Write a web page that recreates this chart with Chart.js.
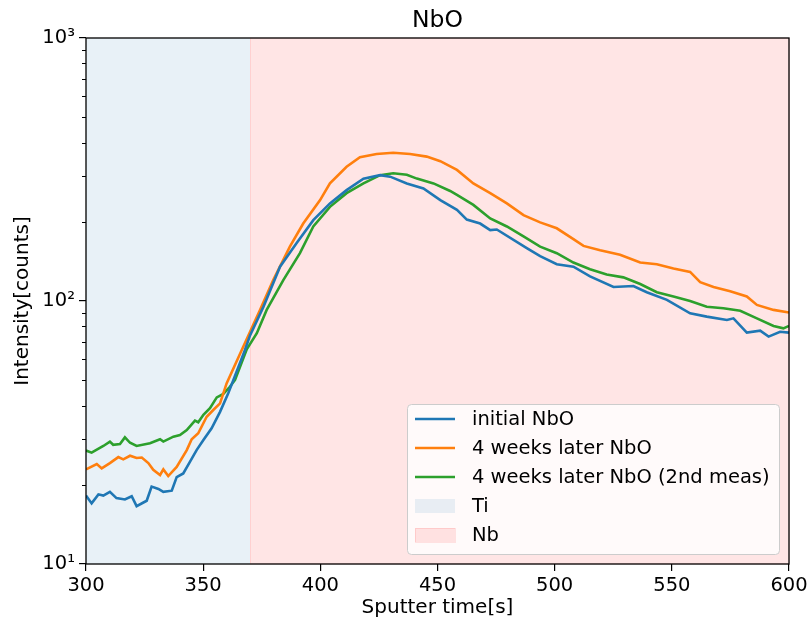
<!DOCTYPE html>
<html>
<head>
<meta charset="utf-8">
<title>NbO</title>
<script src="https://cdn.jsdelivr.net/npm/chart.js@4"></script>
<style>
  body { margin: 0; background: #fff; }
</style>
</head>
<body>
<canvas id="myChart" width="811" height="630"></canvas>
<script>
const ctx = document.getElementById('myChart');

// series: sputter time [s] and intensity [counts]
const chartTitle = 'NbO';
const seriesNames = ['initial NbO', '4 weeks later NbO', '4 weeks later NbO (2nd meas)'];
const seriesColors = ['#1f77b4', '#ff7f0e', '#2ca02c'];

const initialTime = [300, 302.4, 305.3, 307.4, 310.2, 313, 316.6, 319.5, 321.6, 325.9, 328, 330.9, 333, 336.6, 338.7, 341.5, 344.4, 347.2, 350.1, 353.6, 357.2, 360.7, 362.9, 367.8, 370, 375.7, 382.8, 389.9, 397, 404.1, 411.2, 418.4, 425.5, 429.8, 436.9, 444, 451.2, 458.3, 462.5, 468.2, 472.5, 475.3, 488.1, 493.8, 500.9, 508, 515.1, 525.1, 533.6, 539.3, 547.9, 557.8, 564.9, 573.5, 576.3, 582, 587.7, 591.3, 596.2, 600];
const initialNbO = [18.2, 17.0, 18.4, 18.2, 18.8, 17.8, 17.6, 18.1, 16.6, 17.4, 19.7, 19.3, 18.8, 19.0, 21.4, 22.1, 24.5, 27.1, 29.6, 32.8, 37.9, 44.6, 50.1, 65, 74, 95, 135, 166, 203, 235, 264, 292, 301, 297, 280, 268, 242, 222, 204, 197, 186, 187, 159, 148, 138, 135, 124, 113, 114, 108, 101, 89.8, 87.2, 84.7, 85.9, 75.8, 77.1, 73.2, 76.4, 75.8];

const laterTime = [300, 304.6, 306.7, 310.2, 313.8, 315.9, 318.8, 321.6, 323.8, 326.6, 328.7, 331.6, 333, 335.1, 338.7, 343, 345.1, 347.9, 351.5, 354.3, 357.2, 360, 367.1, 374.3, 379.9, 387, 392.7, 399.9, 404.1, 411.2, 416.9, 424, 431.1, 438.3, 445.4, 451.2, 458.3, 465.3, 472.5, 479.6, 486.7, 493.8, 500.9, 508, 512.3, 519.4, 527.9, 536.5, 543.6, 550.7, 557.8, 562.1, 567.8, 574.9, 582, 586.3, 593.4, 600];
const laterNbO = [22.9, 24.0, 23.1, 24.2, 25.5, 25.0, 25.8, 25.3, 25.4, 24.2, 22.8, 21.8, 22.9, 21.6, 23.4, 27.1, 29.8, 31.4, 36.3, 38.5, 40.8, 48.6, 67, 92.5, 120, 161, 197, 242, 280, 324, 352, 362, 366, 362, 354, 340, 315, 280, 257, 235, 212, 199, 189, 172, 162, 156, 150, 140, 138, 133, 129, 118, 113, 109, 104, 96.6, 92.5, 90.4];

const secondTime = [300, 302.4, 307.4, 310.2, 311.6, 314.5, 316.6, 318.8, 321.6, 327.3, 331.6, 333, 337.3, 340.1, 343, 346.5, 347.9, 350.1, 352.9, 355.8, 358.6, 361.4, 363.6, 368.6, 372.9, 377.1, 384.2, 391.3, 397, 404.1, 411.2, 418.4, 425.5, 431.1, 436.9, 441.2, 448.3, 455.4, 458.3, 465.3, 472.5, 479.6, 486.7, 493.8, 500.9, 508, 515.1, 522.2, 529.3, 536.5, 543.6, 550.7, 557.8, 564.9, 572, 579.2, 586.3, 593.4, 597.6, 600];
const secondNbO = [27.0, 26.5, 28.1, 29.2, 28.4, 28.6, 30.3, 28.9, 28.1, 28.8, 29.8, 29.2, 30.5, 30.9, 32.3, 35.1, 34.6, 36.9, 39.1, 43.0, 44.3, 47.2, 50.1, 65.5, 75.4, 92.5, 120, 152, 192, 228, 257, 280, 301, 306, 302, 292, 280, 262, 253, 232, 206, 192, 176, 161, 152, 140, 132, 126, 123, 116, 108, 104, 100, 95.1, 93.8, 91.8, 85.9, 80.4, 78.7, 80.4];

// shaded layers
const regionNames = ['Ti', 'Nb'];
const regionStart = [300, 370];
const regionEnd = [370, 600];
const regionFill = ['rgba(31,119,180,0.1)', 'rgba(255,0,0,0.1)'];
const regionEdge = [null, 'rgba(255,0,0,0.1)'];

const xTicks = [300, 350, 400, 450, 500, 550, 600];
const yTicks = [10, 100, 1000];
const yTickLabels = ['10¹', '10²', '10³'];

const times = [initialTime, laterTime, secondTime];
const values = [initialNbO, laterNbO, secondNbO];

const FONT = 'DejaVu Sans';
const TEXT = 19.5;
Chart.defaults.color = '#000';
Chart.defaults.font.family = FONT;

const regions = {
  id: 'regions',
  beforeDatasetsDraw(chart) {
    const { ctx, chartArea, scales } = chart;
    ctx.save();
    regionNames.forEach((name, i) => {
      const x0 = scales.x.getPixelForValue(regionStart[i]);
      const x1 = scales.x.getPixelForValue(regionEnd[i]);
      ctx.fillStyle = regionFill[i];
      ctx.fillRect(x0, chartArea.top, x1 - x0, chartArea.bottom - chartArea.top);
      if (regionEdge[i]) {
        ctx.strokeStyle = regionEdge[i];
        ctx.lineWidth = 1;
        ctx.strokeRect(x0 + 0.5, chartArea.top, x1 - x0, chartArea.bottom - chartArea.top);
      }
    });
    ctx.restore();
  }
};

// frame, minor log ticks and a title centred over the axes
const frame = {
  id: 'frame',
  afterDatasetsDraw(chart) {
    const { ctx, chartArea, scales } = chart;
    ctx.save();
    ctx.strokeStyle = '#000';
    ctx.lineWidth = 1;
    [10, 100].forEach(dec => {
      for (let k = 2; k <= 9; k++) {
        const y = Math.round(scales.y.getPixelForValue(k * dec)) + 0.5;
        ctx.beginPath();
        ctx.moveTo(chartArea.left - 4, y);
        ctx.lineTo(chartArea.left, y);
        ctx.stroke();
      }
    });
    ctx.lineWidth = 1.3;
    ctx.strokeRect(chartArea.left, chartArea.top, chartArea.right - chartArea.left, chartArea.bottom - chartArea.top);

    ctx.fillStyle = '#000';
    ctx.font = '23.5px "' + FONT + '"';
    ctx.textAlign = 'center';
    ctx.textBaseline = 'alphabetic';
    ctx.fillText(chartTitle, (chartArea.left + chartArea.right) / 2, chartArea.top - 11);
    ctx.restore();
  }
};

const boxLegend = {
  id: 'boxLegend',
  afterDraw(chart) {
    const { ctx, chartArea } = chart;
    const w = 372, h = 150;
    const left = chartArea.right - 10 - w;
    const top = chartArea.bottom - 10 - h;
    ctx.save();
    ctx.beginPath();
    ctx.roundRect(left + 0.5, top + 0.5, w, h, 4);
    ctx.fillStyle = 'rgba(255,255,255,0.8)';
    ctx.fill();
    ctx.strokeStyle = '#cccccc';
    ctx.lineWidth = 1;
    ctx.stroke();

    ctx.font = TEXT + 'px "' + FONT + '"';
    ctx.textBaseline = 'middle';
    ctx.fillStyle = '#000';
    const rowY = i => top + 15 + i * 29;
    seriesNames.forEach((name, i) => {
      const y = rowY(i);
      ctx.strokeStyle = seriesColors[i];
      ctx.lineWidth = 2.6;
      ctx.beginPath();
      ctx.moveTo(left + 8, y);
      ctx.lineTo(left + 48, y);
      ctx.stroke();
      ctx.fillText(name, left + 65, y + 1);
    });
    regionNames.forEach((name, i) => {
      const y = rowY(seriesNames.length + i);
      ctx.fillStyle = regionFill[i];
      ctx.fillRect(left + 8, y - 7, 40, 14);
      if (regionEdge[i]) {
        ctx.strokeStyle = regionEdge[i];
        ctx.lineWidth = 1;
        ctx.strokeRect(left + 8.5, y - 6.5, 40, 14);
      }
      ctx.fillStyle = '#000';
      ctx.fillText(name, left + 65, y + 1);
    });
    ctx.restore();
  }
};

new Chart(ctx, {
  type: 'line',
  data: {
    datasets: seriesNames.map((name, i) => ({
      label: name,
      data: times[i].map((t, j) => ({ x: t, y: values[i][j] })),
      borderColor: seriesColors[i],
      backgroundColor: seriesColors[i],
      borderWidth: 2.6,
      pointRadius: 0,
      tension: 0,
      fill: false
    }))
  },
  options: {
    responsive: false,
    animation: false,
    layout: { padding: { top: 38, right: 22, bottom: 0, left: 0 } },
    plugins: {
      legend: { display: false },
      tooltip: { enabled: false },
      title: { display: false }
    },
    scales: {
      x: {
        type: 'linear',
        min: 300,
        max: 600,
        afterBuildTicks: scale => { scale.ticks = xTicks.map(v => ({ value: v })); },
        ticks: { font: { size: TEXT }, padding: 3, maxRotation: 0 },
        grid: { drawOnChartArea: false, drawTicks: true, tickLength: 7, color: '#000', lineWidth: 1.2 },
        border: { display: false },
        title: { display: true, text: 'Sputter time[s]', font: { size: 20 }, padding: { top: 0, bottom: 10 } },
        afterFit: scale => { scale.height = 66; }
      },
      y: {
        type: 'logarithmic',
        min: 10,
        max: 1000,
        afterBuildTicks: scale => { scale.ticks = yTicks.map(v => ({ value: v })); },
        ticks: {
          font: { size: TEXT },
          padding: 4,
          callback: v => yTickLabels[yTicks.indexOf(v)]
        },
        grid: { drawOnChartArea: false, drawTicks: true, tickLength: 7, color: '#000', lineWidth: 1.2 },
        border: { display: false },
        title: { display: true, text: 'Intensity[counts]', font: { size: 20 }, padding: { top: 11, bottom: 0 } },
        afterFit: scale => { scale.width = 86; }
      }
    }
  },
  plugins: [regions, frame, boxLegend]
});
</script>
</body>
</html>
